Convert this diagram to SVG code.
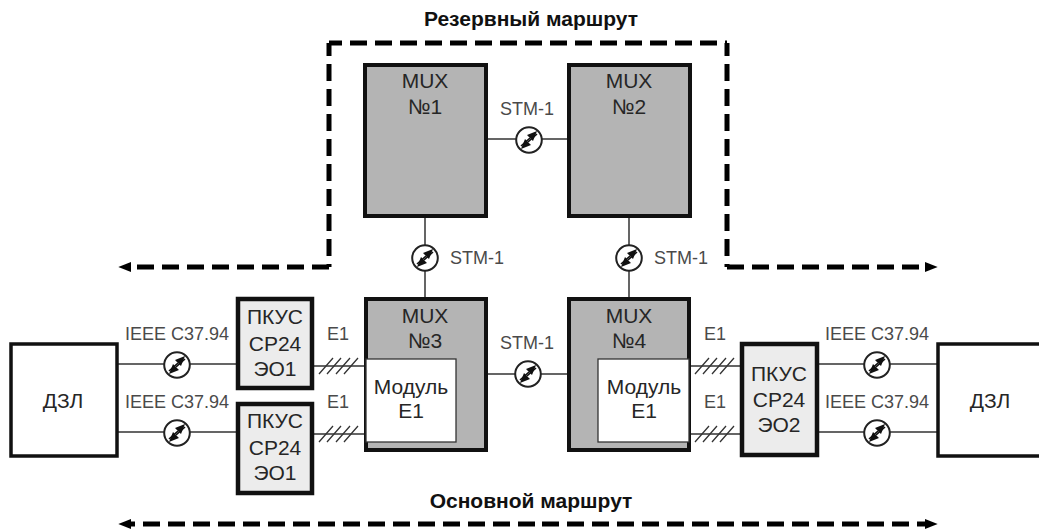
<svg xmlns="http://www.w3.org/2000/svg" width="1039" height="530" viewBox="0 0 1039 530">
<style>
text{font-family:"Liberation Sans",Arial,sans-serif;text-anchor:middle}
.n{font-size:21px;fill:#262626}
.l{font-size:18px;fill:#4a4a4a}
.t{font-size:21px;font-weight:bold;fill:#111}
.mux{fill:#b4b4b4;stroke:#111;stroke-width:4}
.mod{fill:#fff;stroke:#333;stroke-width:1.3}
.pk{fill:#ececec;stroke:#111;stroke-width:4.5}
.dz{fill:#fff;stroke:#111;stroke-width:3.5}
.w{fill:none;stroke:#333;stroke-width:1.5}
.d{fill:none;stroke:#000;stroke-width:5;stroke-dasharray:17 8}
.o{stroke-dashoffset:4}
.h{fill:none;stroke:#333;stroke-width:1.3}
.c{fill:#fff;stroke:#222;stroke-width:2}
</style>
<defs>
<marker id="a" viewBox="0 0 10 10" refX="1" refY="5" markerWidth="13" markerHeight="13" markerUnits="userSpaceOnUse" orient="auto"><path d="M0,1V9L10,5Z" fill="#000"/></marker>
<g id="oc">
<circle class="c" r="12.8"/>
<path d="M8,-9 L-2,-5 L4,1Z M-8,9 L2,5 L-4,-1Z" fill="#111"/>
<path d="M1,-2 L-8,6 M-1,2 L8,-6" stroke="#111" stroke-width="1.6"/>
</g>
<path id="hs" d="M-20,8 L-6,-8 M-12,8 L2,-8 M-3,8 L11,-8 M5,8 L19,-8" class="h"/>
</defs>
<g id="connectors">
<path class="w" d="M487,139H568M425,217V297M629,217V297M487,374H567M117,364H236M117,432H236M313,366H364M313,434H364M690,366H740M690,434H740M818,364H937M818,432H937"/>
<use href="#hs" x="339" y="366"/><use href="#hs" x="339" y="434"/>
<use href="#hs" x="715" y="366"/><use href="#hs" x="715" y="434"/>
<use href="#oc" x="529" y="140"/><use href="#oc" x="425" y="258"/><use href="#oc" x="629" y="258"/><use href="#oc" x="528" y="374"/>
<use href="#oc" x="177" y="365"/><use href="#oc" x="177" y="433"/><use href="#oc" x="877" y="365"/><use href="#oc" x="877" y="433"/>
<path class="d" marker-end="url(#a)" d="M329,267H130"/>
<path class="d o" d="M329,43H727"/>
<path class="d o" d="M329,43V267"/>
<path class="d o" d="M727,43V267"/>
<path class="d" marker-end="url(#a)" d="M727,267H926"/>
<path class="d" marker-end="url(#a)" d="M535,524H130"/>
<path class="d" marker-end="url(#a)" d="M542,524H926"/>
</g>
<g id="mux1"><rect class="mux" x="365" y="65" width="121" height="151"/><text class="n" x="425" y="88">MUX</text><text class="n" x="425" y="114">№1</text></g>
<g id="mux2"><rect class="mux" x="569" y="65" width="121" height="151"/><text class="n" x="629" y="88">MUX</text><text class="n" x="629" y="114">№2</text></g>
<g id="mux3"><rect class="mux" x="366" y="299" width="120" height="151"/><text class="n" x="425" y="323">MUX</text><text class="n" x="425" y="348">№3</text></g>
<g id="mux4"><rect class="mux" x="569" y="299" width="120" height="151"/><text class="n" x="629" y="323">MUX</text><text class="n" x="629" y="348">№4</text></g>
<g id="mod3"><rect class="mod" x="366" y="359" width="90" height="83"/><text class="n" x="411" y="394">Модуль</text><text class="n" x="411" y="418">E1</text></g>
<g id="mod4"><rect class="mod" x="598" y="359" width="91" height="83"/><text class="n" x="644" y="394">Модуль</text><text class="n" x="644" y="418">E1</text></g>
<g id="pkus1"><rect class="pk" x="238" y="299" width="74" height="89"/><text class="n" x="275" y="324">ПКУС</text><text class="n" x="275" y="351">СР24</text><text class="n" x="275" y="376">ЭО1</text></g>
<g id="pkus2"><rect class="pk" x="238" y="404" width="74" height="89"/><text class="n" x="275" y="428">ПКУС</text><text class="n" x="275" y="455">СР24</text><text class="n" x="275" y="480">ЭО1</text></g>
<g id="pkus3"><rect class="pk" x="742" y="344" width="75" height="111"/><text class="n" x="779" y="381">ПКУС</text><text class="n" x="779" y="407">СР24</text><text class="n" x="779" y="432">ЭО2</text></g>
<g id="dzl1"><rect class="dz" x="11" y="344" width="106" height="112"/><text class="n" x="63" y="408">ДЗЛ</text></g>
<g id="dzl2"><rect class="dz" x="938" y="344" width="104" height="112"/><text class="n" x="990" y="408">ДЗЛ</text></g>
<g id="labels">
<text class="t" x="531" y="26">Резервный маршрут</text>
<text class="t" x="531" y="508">Основной маршрут</text>
<text class="l" x="527" y="115">STM-1</text><text class="l" x="477" y="264">STM-1</text><text class="l" x="681" y="264">STM-1</text><text class="l" x="527" y="349">STM-1</text>
<text class="l" x="177" y="340">IEEE C37.94</text><text class="l" x="177" y="408">IEEE C37.94</text>
<text class="l" x="877" y="340">IEEE C37.94</text><text class="l" x="877" y="408">IEEE C37.94</text>
<text class="l" x="338" y="340">E1</text><text class="l" x="338" y="408">E1</text><text class="l" x="715" y="340">E1</text><text class="l" x="715" y="408">E1</text>
</g>
</svg>
